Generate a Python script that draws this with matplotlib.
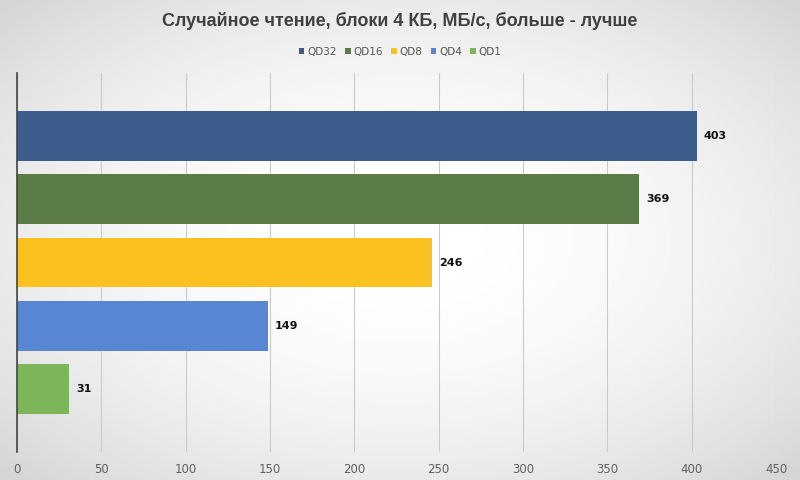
import numpy as np
import matplotlib.pyplot as plt

series = ["QD32", "QD16", "QD8", "QD4", "QD1"]
speeds = [403, 369, 246, 149, 31]
colors = ["#3f5d8c", "#5b7c47", "#fbc21f", "#5886d2", "#7db65a"]
ticks = [0, 50, 100, 150, 200, 250, 300, 350, 400, 450]

plt.rcParams['font.family'] = ['DejaVu Sans Condensed', 'DejaVu Sans']

fig = plt.figure(figsize=(8, 4.8), dpi=100)

# radial grey-white background
bg = fig.add_axes([0, 0, 1, 1], zorder=-1)
yy, xx = np.mgrid[-1:1:240j, -1:1:400j]
r2 = (xx ** 2 + yy ** 2) / 2.0
bg.imshow(1 - 0.17 * r2, cmap="gray", vmin=0, vmax=1,
          aspect="auto", extent=[0, 1, 0, 1], interpolation="bilinear")
bg.axis("off")

ax = fig.add_axes([17 / 800, 1 - 452 / 480, (776 - 17) / 800, (452 - 73) / 480])
ax.patch.set_alpha(0)

pos = np.arange(len(series))
bars = ax.barh(pos, speeds, height=0.79, color=colors, zorder=3)
for p, v in zip(pos, speeds):
    ax.text(v + 4, p, str(v), va="center", ha="left", fontsize=8,
            fontweight="bold", color="#111111")

ax.set_xlim(0, 450)
ax.set_ylim(len(series), -1)
ax.set_xticks(ticks)
ax.set_yticks([])
ax.grid(axis="x", color="#cacaca", linewidth=0.8, zorder=0)
ax.tick_params(axis="x", length=0, pad=8, labelsize=8.5, labelcolor="#606060")
for s in ["top", "right", "bottom"]:
    ax.spines[s].set_visible(False)
ax.spines["left"].set_color("#444444")
ax.spines["left"].set_linewidth(1.2)
ax.spines["left"].set_zorder(4)

fig.text(0.5, 1 - 21 / 480, "Случайное чтение, блоки 4 КБ, МБ/с, больше - лучше",
         ha="center", va="center", fontsize=13, fontweight="bold", color="#404040",
         family=['Liberation Sans', 'DejaVu Sans'])

fig.legend(bars, series, loc="center", bbox_to_anchor=(0.5, 1 - 52 / 480), ncol=5,
           frameon=False, fontsize=7.5, handlelength=0.55, handleheight=0.55,
           handletextpad=0.25, columnspacing=0.8, labelcolor="#555555")

fig.savefig("out.png", dpi=100)
